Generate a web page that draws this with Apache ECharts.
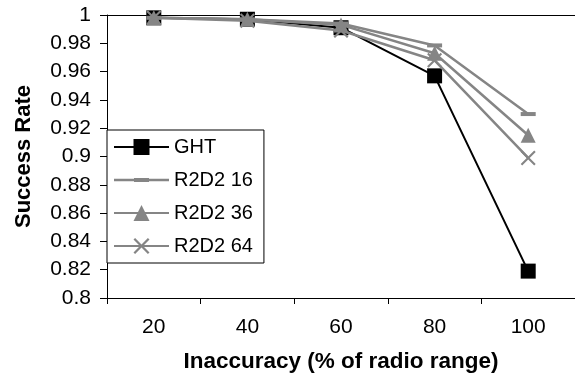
<!DOCTYPE html>
<html>
<head>
<meta charset="utf-8">
<script src="https://cdn.jsdelivr.net/npm/echarts@6/dist/echarts.min.js"></script>
<style>html,body{margin:0;padding:0;background:#fff}#c{width:575px;height:378px}</style>
</head>
<body>
<div id="c"></div>
<script>
var categories = ['20', '40', '60', '80', '100'];
var ght = [0.998, 0.997, 0.991, 0.957, 0.819];
var r2d2_16 = [0.998, 0.997, 0.994, 0.9785, 0.930];
var r2d2_36 = [0.998, 0.997, 0.993, 0.973, 0.915];
var r2d2_64 = [0.998, 0.996, 0.989, 0.968, 0.899];
var yTicks = {min: 0.8, max: 1, interval: 0.02};

var FONT = 'Liberation Sans, Arial, sans-serif';
var GREY = '#858585';
var XPATH = 'path://M0,1L1,0L5,4L9,0L10,1L6,5L10,9L9,10L5,6L1,10L0,9L4,5Z';
var DASH_LEGEND = 'path://M0,0.75L20,0.75L20,0L35,0L35,0.75L55,0.75L55,3.25L35,3.25L35,4L20,4L20,3.25L0,3.25Z';

var chart = echarts.init(document.getElementById('c'));
chart.setOption({
  animation: false,
  backgroundColor: '#fff',
  grid: {left: 107, top: 15, right: -6, bottom: 78},
  legend: {
    orient: 'vertical', left: 107, top: 130,
    padding: [7, 11, 7, 6], itemGap: 13, itemWidth: 55, itemHeight: 20,
    borderColor: '#000', borderWidth: 1, backgroundColor: '#fff',
    textStyle: {fontFamily: FONT, fontSize: 20, color: '#000'},
    data: [
      {name: 'GHT'},
      {name: 'R2D2 16', icon: DASH_LEGEND},
      {name: 'R2D2 36'},
      {name: 'R2D2 64'}
    ]
  },
  xAxis: [{
    type: 'category', data: categories, boundaryGap: true,
    name: 'Inaccuracy (% of radio range)', nameLocation: 'middle', nameGap: 52,
    nameTextStyle: {fontFamily: FONT, fontSize: 22.5, fontWeight: 'bold', color: '#000'},
    axisLine: {lineStyle: {color: '#000', width: 1}},
    axisTick: {show: true, length: 6, lineStyle: {color: '#000'}},
    axisLabel: {fontFamily: FONT, fontSize: 21, color: '#000', margin: 19},
    splitLine: {show: false}
  }, {
    type: 'category', data: categories, position: 'top',
    axisLine: {show: true, lineStyle: {color: '#000', width: 1}},
    axisTick: {show: false}, axisLabel: {show: false}, splitLine: {show: false}
  }],
  yAxis: {
    type: 'value', min: yTicks.min, max: yTicks.max, interval: yTicks.interval,
    name: 'Success Rate', nameLocation: 'middle', nameGap: 72,
    nameTextStyle: {fontFamily: FONT, fontSize: 22, fontWeight: 'bold', color: '#000'},
    axisLine: {show: true, lineStyle: {color: '#000', width: 1}},
    axisTick: {show: true, length: 7, lineStyle: {color: '#000'}},
    axisLabel: {fontFamily: FONT, fontSize: 21, color: '#000', margin: 16},
    splitLine: {show: false}
  },
  series: [{
    name: 'GHT', type: 'line', data: ght,
    symbol: 'rect', symbolSize: 15,
    lineStyle: {color: '#000', width: 2}, itemStyle: {color: '#000'}, z: 1
  }, {
    name: 'R2D2 16', type: 'line', data: r2d2_16,
    symbol: 'rect', symbolSize: [15, 4],
    lineStyle: {color: GREY, width: 2.5}, itemStyle: {color: GREY}, z: 2
  }, {
    name: 'R2D2 36', type: 'line', data: r2d2_36,
    symbol: 'triangle', symbolSize: 15,
    lineStyle: {color: GREY, width: 2.5}, itemStyle: {color: GREY}, z: 2
  }, {
    name: 'R2D2 64', type: 'line', data: r2d2_64,
    symbol: XPATH, symbolSize: 15,
    lineStyle: {color: GREY, width: 2.5}, itemStyle: {color: GREY}, z: 2
  }]
});
</script>
</body>
</html>
